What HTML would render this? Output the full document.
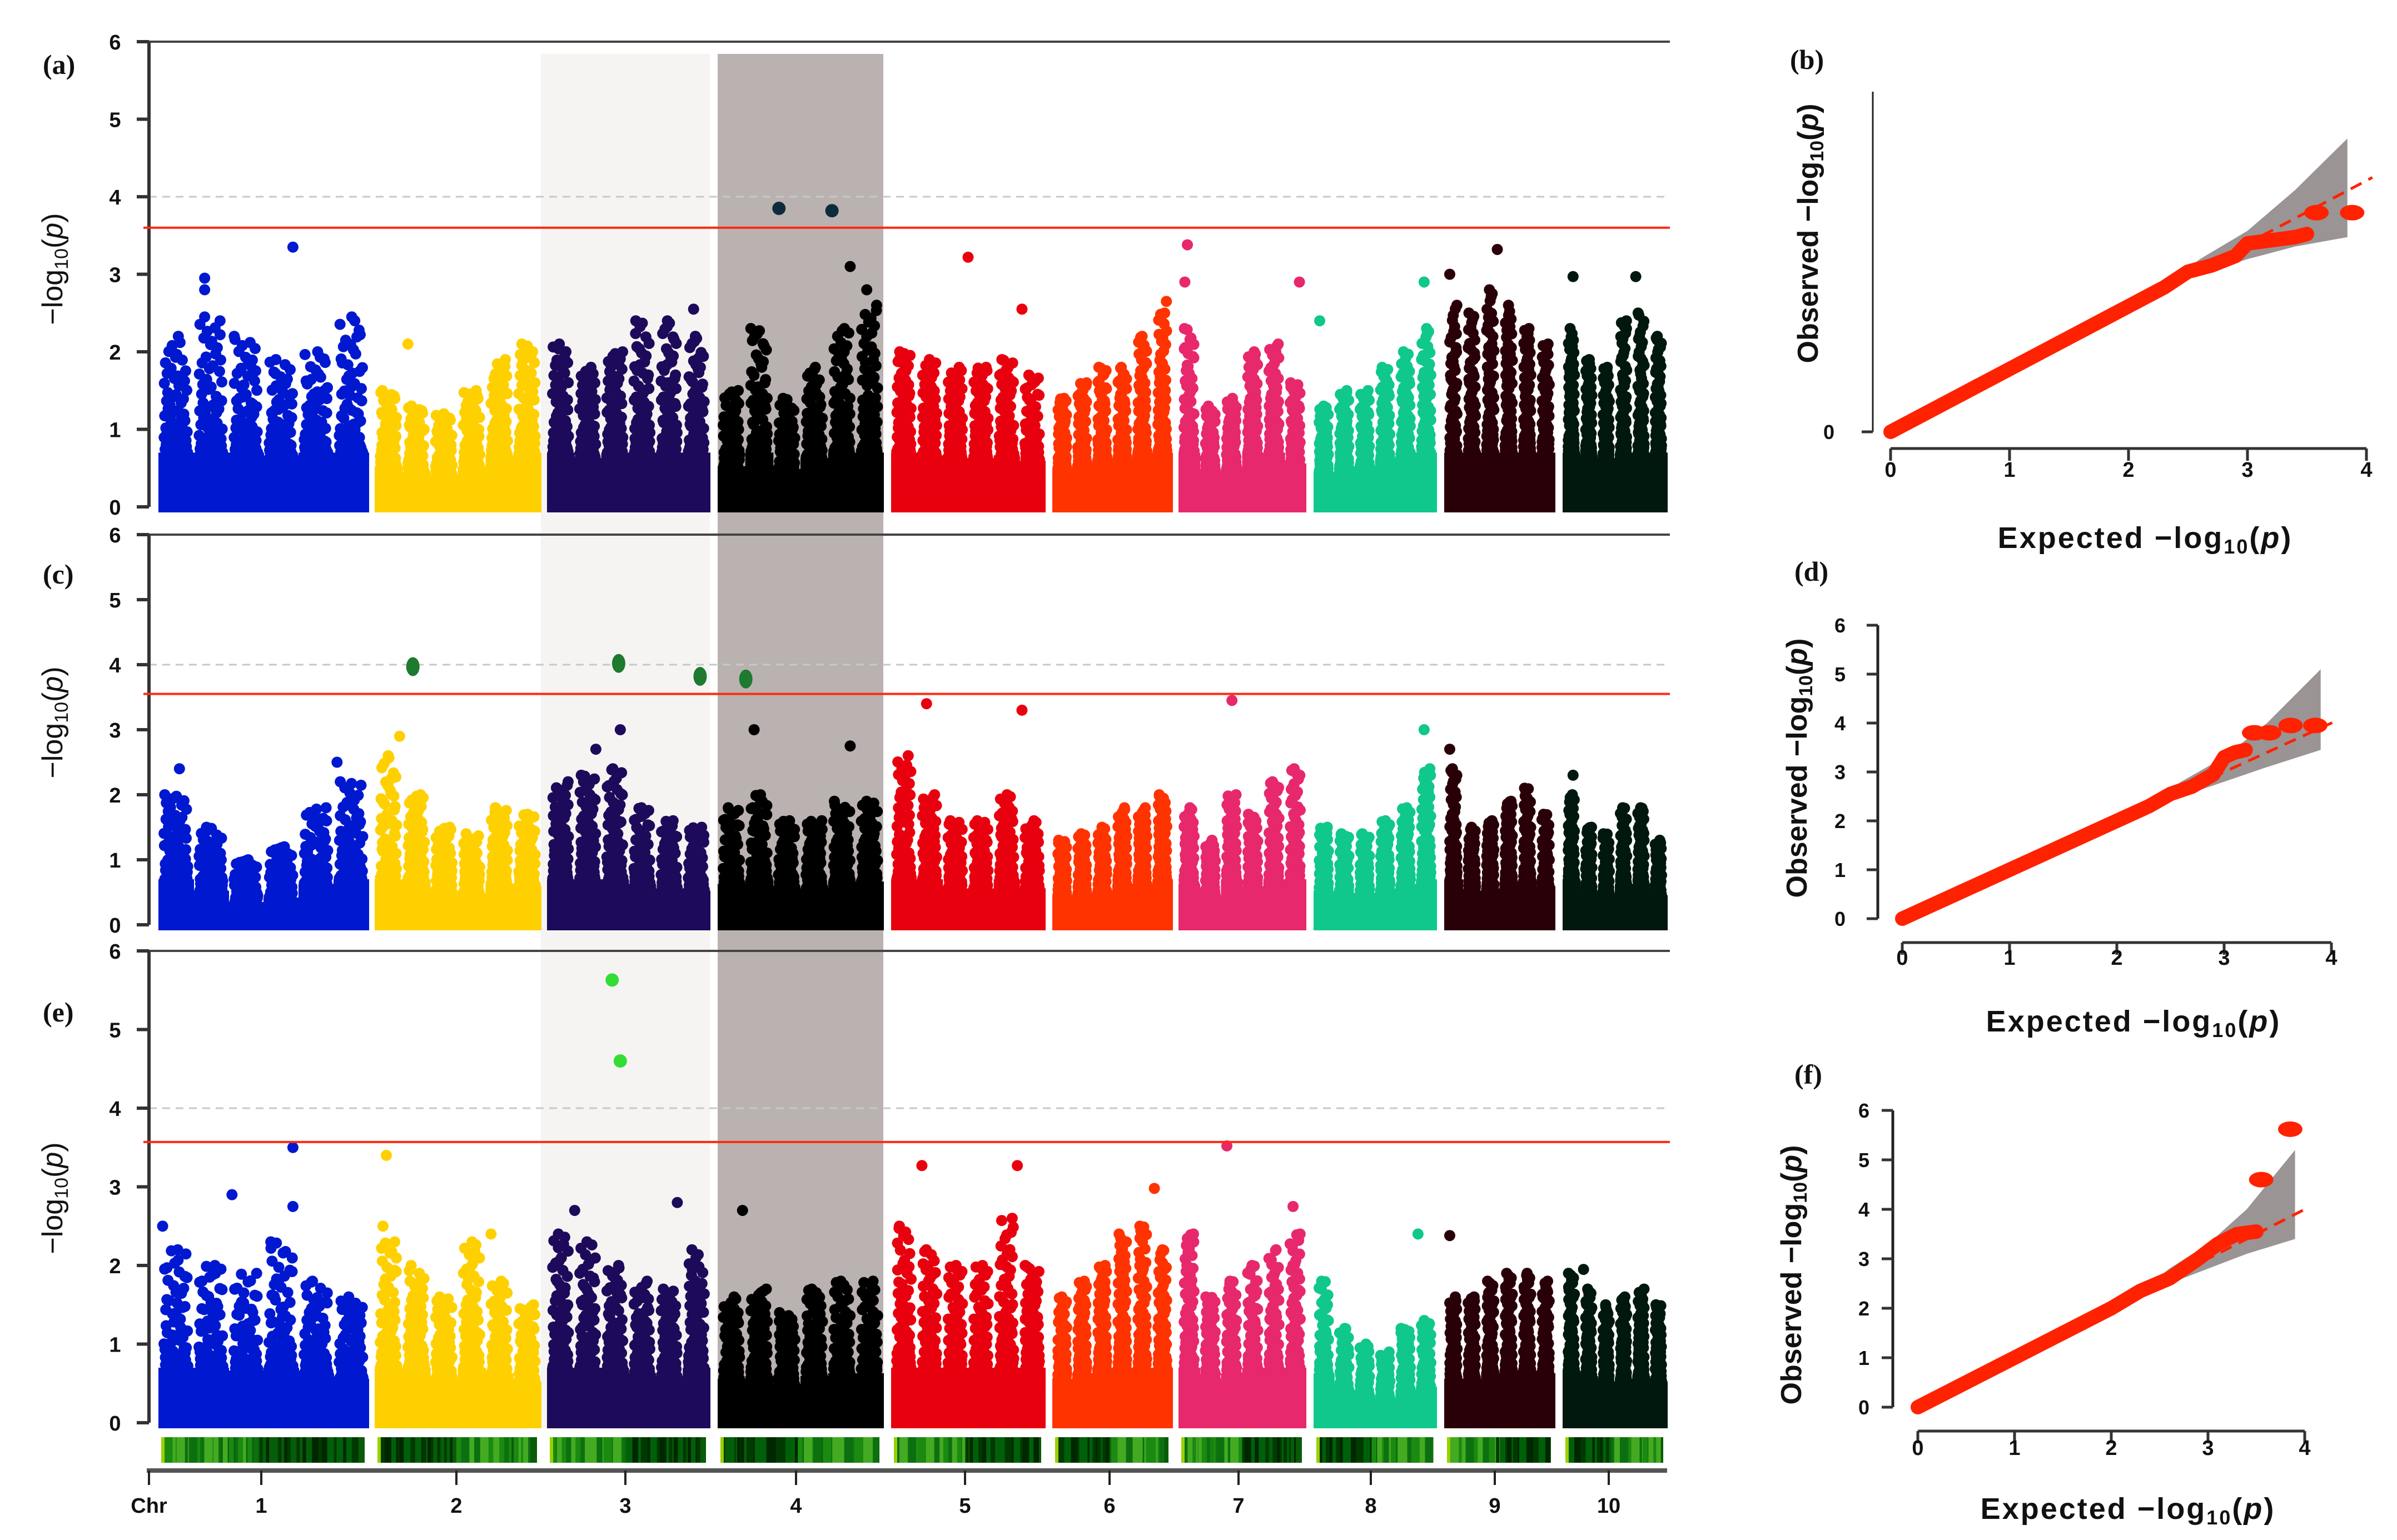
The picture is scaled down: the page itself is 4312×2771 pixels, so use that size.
<!DOCTYPE html>
<html><head><meta charset="utf-8"><style>
html,body{margin:0;padding:0;background:#fff;}
svg{display:block;font-family:"Liberation Sans",sans-serif;}
</style></head><body>
<svg id="fig" width="4312" height="2771" viewBox="0 0 4312 2771" xmlns="http://www.w3.org/2000/svg"></svg>
<script>
// ---------- DATA ----------
const chromosomes = ['1','2','3','4','5','6','7','8','9','10'];
const chrColors = ['#0018d0','#ffd000','#1e0a5a','#000000','#e8000e','#ff3300','#e8286c','#10c88c','#2a0008','#00180e'];
// upper envelope of dense cloud per chromosome (6 bins)
const envA = [[2.2,2.4,2.2,1.9,2.0,2.4],[1.5,1.3,1.2,1.5,1.9,2.1],[2.1,1.8,2.0,2.4,2.4,2.2],[1.5,2.3,1.4,1.8,2.3,2.6],[2.0,1.9,1.8,1.8,1.9,1.7],[1.4,1.6,1.8,1.8,2.2,2.5],[2.3,1.3,1.4,2.0,2.1,1.6],[1.3,1.5,1.5,1.8,2.0,2.3],[2.6,2.5,2.8,2.6,2.3,2.1],[2.3,1.9,1.8,2.4,2.5,2.2]];
const envC = [[2.0,1.5,1.0,1.2,1.8,2.2],[2.6,2.0,1.5,1.4,1.8,1.7],[2.2,2.3,2.4,1.8,1.6,1.5],[1.8,2.0,1.6,1.6,1.9,1.9],[2.6,2.0,1.6,1.6,2.0,1.6],[1.3,1.4,1.5,1.8,1.8,2.0],[1.8,1.3,2.0,1.7,2.2,2.4],[1.5,1.4,1.4,1.6,1.8,2.4],[2.4,1.5,1.6,1.9,2.1,1.7],[2.0,1.5,1.4,1.8,1.8,1.3]];
const envE = [[2.2,2.0,1.9,2.3,1.8,1.6],[2.3,2.0,1.6,2.3,1.8,1.5],[2.4,2.3,2.0,1.8,1.7,2.2],[1.6,1.7,1.4,1.7,1.8,1.8],[2.5,2.2,2.0,2.0,2.6,2.0],[1.6,1.8,2.0,2.4,2.5,2.2],[2.4,1.6,1.8,2.0,2.2,2.4],[1.8,1.2,1.0,0.9,1.2,1.3],[1.6,1.6,1.8,1.9,1.9,1.8],[1.9,1.7,1.5,1.6,1.7,1.5]];
// notable peaks: [chrIndex, fractional position, -log10 p]
const peaksA = [[0,0.64,3.35],[0,0.22,2.95],[0,0.22,2.8],[0,0.22,2.45],[0,0.92,2.45],[1,0.2,2.1],[2,0.9,2.55],[3,0.8,3.1],[3,0.9,2.8],[4,0.5,3.22],[4,0.85,2.55],[5,0.95,2.65],[6,0.07,3.38],[6,0.05,2.9],[6,0.95,2.9],[7,0.9,2.9],[7,0.05,2.4],[8,0.48,3.32],[8,0.05,3.0],[9,0.1,2.97],[9,0.7,2.97]];
const sigA = [[3,0.37,3.85],[3,0.69,3.82]];
const peaksC = [[0,0.85,2.5],[0,0.1,2.4],[1,0.15,2.9],[2,0.45,3.0],[2,0.3,2.7],[3,0.22,3.0],[3,0.8,2.75],[4,0.23,3.4],[4,0.85,3.3],[6,0.42,3.45],[7,0.9,3.0],[8,0.05,2.7],[9,0.1,2.3]];
const sigC = [[1,0.23,3.97],[2,0.44,4.02],[2,0.94,3.82],[3,0.17,3.78]];
const peaksE = [[0,0.64,3.5],[0,0.35,2.9],[0,0.64,2.75],[0,0.02,2.5],[1,0.07,3.4],[1,0.05,2.5],[1,0.7,2.4],[2,0.8,2.8],[2,0.17,2.7],[3,0.15,2.7],[4,0.2,3.27],[4,0.82,3.27],[5,0.85,2.98],[6,0.38,3.52],[6,0.9,2.75],[7,0.85,2.4],[8,0.05,2.38],[9,0.2,1.95]];
const sigE = [[2,0.4,5.63],[2,0.45,4.6]];
const thresholds = [3.6,3.55,3.57];
const yTicks = [0,1,2,3,4,5,6];
const qqTicks = [0,1,2,3,4];
// QQ data
const qqExpB = [0,0.5,1,1.5,2,2.3,2.5,2.7,2.9,3.0,3.2,3.4,3.5];
const qqObsB = [0,0.5,1,1.5,2,2.3,2.55,2.65,2.8,3.0,3.05,3.1,3.15];
const qqTopExpB = [3.58,3.88];
const qqTopObsB = [3.49,3.49];
const bandXB = [2.2,2.6,3.0,3.4,3.84];
const bandLoB = [2.2,2.5,2.75,2.95,3.1];
const bandHiB = [2.2,2.75,3.2,3.85,4.67];
const qqExpD = [0,0.5,1,1.5,2,2.3,2.5,2.7,2.9,3.0,3.1,3.2];
const qqObsD = [0,0.5,1,1.5,2,2.3,2.55,2.7,2.95,3.3,3.4,3.45];
const qqTopExpD = [3.28,3.42,3.62,3.85];
const qqTopObsD = [3.8,3.8,3.95,3.95];
const bandXD = [2.2,2.6,3.0,3.4,3.9];
const bandLoD = [2.2,2.5,2.8,3.1,3.45];
const bandHiD = [2.2,2.8,3.3,4.0,5.1];
const qqExpF = [0,0.5,1,1.5,2,2.3,2.6,2.9,3.1,3.3,3.5];
const qqObsF = [0,0.5,1,1.5,2,2.35,2.6,3.0,3.3,3.5,3.55];
const qqTopExpF = [3.55,3.85];
const qqTopObsF = [4.6,5.62];
const bandXF = [2.2,2.6,3.0,3.4,3.9];
const bandLoF = [2.2,2.5,2.8,3.1,3.4];
const bandHiF = [2.2,2.8,3.3,4.0,5.2];

// ---------- LAYOUT ----------
const NS='http://www.w3.org/2000/svg';
const svg=document.getElementById('fig');
function add(tag,attrs,parent){const el=document.createElementNS(NS,tag);for(const k in attrs)el.setAttribute(k,attrs[k]);(parent||svg).appendChild(el);return el;}
const chrPixStart=[285,674,984,1291,1603,1893,2120,2363,2598,2811];
const chrPixEnd=[663,973,1277,1589,1880,2109,2349,2584,2797,2999];
const chrLabelX=[470,821,1125,1432,1736,1996,2228,2466,2689,2894];
const AX=268, RIGHT=2999;
const panels=[
 {zero:912,top:75,label:'(a)',ly:133,ty:484,env:envA,peaks:peaksA,sig:sigA,sigColor:'#0c2c3c',sigShape:'c'},
 {zero:1664,top:962,label:'(c)',ly:1050,ty:1300,env:envC,peaks:peaksC,sig:sigC,sigColor:'#1e7a2e',sigShape:'e'},
 {zero:2560,top:1711,label:'(e)',ly:1838,ty:2156,env:envE,peaks:peaksE,sig:sigE,sigColor:'#33dd33',sigShape:'c'}
];
panels.forEach(p=>p.unit=(p.zero-p.top)/6);
function xPos(c,f){return chrPixStart[c]+f*(chrPixEnd[c]-chrPixStart[c]);}
function halton(i,b){let f=1,r=0;while(i>0){f/=b;r+=f*(i%b);i=Math.floor(i/b);}return r;}

let el=add('rect',{x:973,y:97,width:304,height:2473,fill:'#f6f4f3'});


el=add('rect',{x:1291,y:97,width:298,height:2473,fill:'#bab2b0'});



panels.forEach((p,pi)=>{
 const g=add('g',{});
 
 
 const Y=v=>p.zero-v*p.unit;
 el=add('line',{x1:AX,y1:p.top,x2:RIGHT+5,y2:p.top,stroke:'#444','stroke-width':4},g);
 
 
 el=add('line',{x1:AX,y1:Y(4),x2:RIGHT,y2:Y(4),stroke:'#c8c8c8','stroke-width':3,'stroke-dasharray':'14 10'},g);
 
 
 el=add('line',{x1:AX,y1:p.top,x2:AX,y2:p.zero,stroke:'#333','stroke-width':6},g);
 
 
 yTicks.forEach(t=>{
  el=add('line',{x1:AX-22,y1:Y(t),x2:AX,y2:Y(t),stroke:'#333','stroke-width':6},g);
  
  
  el=add('text',{x:207,y:Y(t)+14,'font-size':38,'font-weight':'bold','text-anchor':'middle',fill:'#111'},g);
  el.textContent=t;
  
  
 });
 el=add('text',{x:0,y:0,'font-size':52,'text-anchor':'middle',fill:'#111',transform:`translate(112,${p.ty}) rotate(-90)`},g);
 el.innerHTML='−log<tspan font-size="34" dy="10">10</tspan><tspan dy="-10">(</tspan><tspan font-style="italic">p</tspan>)';
 
 
 el=add('text',{x:77,y:p.ly,'font-size':50,'font-weight':'bold','font-family':'Liberation Serif, serif',fill:'#111'},g);
 el.textContent=p.label;
 
 
 chromosomes.forEach((cn,c)=>{
  const cg=add('g',{fill:chrColors[c]},g);
  
  
  const env=p.env[c];const nb=env.length;
  const w=(chrPixEnd[c]-chrPixStart[c])/nb;
  env.forEach((e,b)=>{
   const solid=Math.min(0.35*e,0.7);
   const bx=chrPixStart[c]+b*w;
   el=add('rect',{x:bx,y:Y(solid),width:w+1,height:p.zero+10-Y(solid)},cg);
   
   
   const off=c*37+b*11+pi*97;
   for(let k=1;k<=70;k++){
    const fx=halton(k+off,2);
    const fy=Math.pow(halton(k+off,3),2.2);
    const v=solid+(e-solid)*fy;
    el=add('circle',{cx:bx+10+fx*(w-20),cy:Y(v),r:10},cg);
    
    
   }
   el=add('circle',{cx:bx+10+halton(off+3,5)*(w-20),cy:Y(e),r:10},cg);
   
   
  });
 });
 p.peaks.forEach(pk=>{
  el=add('circle',{cx:xPos(pk[0],pk[1]),cy:Y(pk[2]),r:10,fill:chrColors[pk[0]]},g);
  
  
 });
 p.sig.forEach(pk=>{
  if(p.sigShape==='e') el=add('ellipse',{cx:xPos(pk[0],pk[1]),cy:Y(pk[2]),rx:12,ry:17,fill:p.sigColor},g);
  else el=add('circle',{cx:xPos(pk[0],pk[1]),cy:Y(pk[2]),r:12,fill:p.sigColor},g);
  
  
 });
 el=add('line',{x1:AX-10,y1:Y(thresholds[pi]),x2:RIGHT+5,y2:Y(thresholds[pi]),stroke:'#ff2a10','stroke-width':4},g);
 
 
});

chromosomes.forEach((cn,c)=>{
 el=add('rect',{x:chrPixStart[c]+5,y:2586,width:chrPixEnd[c]-chrPixStart[c]-12,height:46,fill:'#0a5a0a'});
 
 
 const w=chrPixEnd[c]-chrPixStart[c]-12;
 for(let k=0;k<40;k++){
  const f=halton(k+1+c*13,2);
  const shade=['#003a00','#1a8a10','#00600a','#44aa22','#002800','#0d7010'][k%6];
  el=add('rect',{x:chrPixStart[c]+5+f*(w-12),y:2586,width:6+(k%4)*3,height:46,fill:shade});
  
  
 }
 el=add('rect',{x:chrPixStart[c]+5,y:2586,width:6,height:46,fill:'#9ad000'});
 
 
});
el=add('line',{x1:AX-4,y1:2646,x2:RIGHT,y2:2646,stroke:'#555','stroke-width':8});


[AX].concat(chrLabelX).forEach(x=>{
 el=add('line',{x1:x,y1:2646,x2:x,y2:2672,stroke:'#222','stroke-width':4});
 
 
});
el=add('text',{x:AX,y:2722,'font-size':38,'font-weight':'bold','text-anchor':'middle',fill:'#111'});
el.textContent='Chr';


chromosomes.forEach((cn,c)=>{
 el=add('text',{x:chrLabelX[c],y:2722,'font-size':38,'font-weight':'bold','text-anchor':'middle',fill:'#111'});
 el.textContent=cn;
 
 
});

const qqs=[
 {id:'b',x0:3401,xu:214,y0:777,yu:113,axisY:789,yAxisX:3369,yTop:165,yLabelX:3290,ticksY:[0],tickLblY:844,expY:968,titleX:3252,titleY:420,lblX:3220,lblY:124,
  exp:qqExpB,obs:qqObsB,te:qqTopExpB,to:qqTopObsB,bx:bandXB,bl:bandLoB,bh:bandHiB},
 {id:'d',x0:3422,xu:193,y0:1653,yu:88,axisY:1678,yAxisX:3378,yTop:1125,yLabelX:3310,ticksY:[0,1,2,3,4,5,6],tickLblY:1722,expY:1838,titleX:3232,titleY:1382,lblX:3228,lblY:1045,
  exp:qqExpD,obs:qqObsD,te:qqTopExpD,to:qqTopObsD,bx:bandXD,bl:bandLoD,bh:bandHiD},
 {id:'f',x0:3450,xu:174,y0:2532,yu:89,axisY:2557,yAxisX:3405,yTop:1998,yLabelX:3353,ticksY:[0,1,2,3,4,5,6],tickLblY:2604,expY:2715,titleX:3222,titleY:2294,lblX:3228,lblY:1950,
  exp:qqExpF,obs:qqObsF,te:qqTopExpF,to:qqTopObsF,bx:bandXF,bl:bandLoF,bh:bandHiF}
];
qqs.forEach(q=>{
 const g=add('g',{});
 
 
 const X=v=>q.x0+v*q.xu, Y=v=>q.y0-v*q.yu;
 el=add('text',{x:q.lblX,y:q.lblY,'font-size':50,'font-weight':'bold','font-family':'Liberation Serif, serif',fill:'#111'},g);
 el.textContent='('+q.id+')';
 
 
 let pts=q.bx.map((x,i)=>X(x)+','+Y(q.bh[i]));
 pts=pts.concat(q.bx.slice().reverse().map((x,i)=>X(x)+','+Y(q.bl[q.bl.length-1-i])));
 el=add('polygon',{points:pts.join(' '),fill:'#9a9494'},g);
 
 
 el=add('line',{x1:X(0),y1:q.axisY+18,x2:X(4),y2:q.axisY+18,stroke:'#333','stroke-width':5},g);
 
 
 qqTicks.forEach(t=>{
  el=add('line',{x1:X(t),y1:q.axisY+18,x2:X(t),y2:q.axisY+40,stroke:'#333','stroke-width':5},g);
  
  
  el=add('text',{x:X(t),y:q.tickLblY+14,'font-size':38,'font-weight':'bold','text-anchor':'middle',fill:'#111'},g);
  el.textContent=t;
  
  
 });
 el=add('line',{x1:q.yAxisX,y1:q.yTop,x2:q.yAxisX,y2:Y(0),stroke:'#222','stroke-width':q.id==='b'?3:5},g);
 
 
 q.ticksY.forEach(t=>{
  el=add('line',{x1:q.yAxisX-20,y1:Y(t),x2:q.yAxisX,y2:Y(t),stroke:'#333','stroke-width':5},g);
  
  
  el=add('text',{x:q.yLabelX,y:Y(t)+13,'font-size':36,'font-weight':'bold','text-anchor':'middle',fill:'#111'},g);
  el.textContent=t;
  
  
 });
 el=add('text',{x:(X(0)+X(4))/2+30,y:q.expY+18,'font-size':54,'font-weight':'bold','text-anchor':'middle','letter-spacing':3,fill:'#111'},g);
 el.innerHTML='Expected  −log<tspan font-size="36" dy="10">10</tspan><tspan dy="-10">(</tspan><tspan font-style="italic">p</tspan>)';
 
 
 el=add('text',{x:0,y:0,'font-size':52,'font-weight':'bold','text-anchor':'middle',fill:'#111',transform:`translate(${q.titleX+18},${q.titleY}) rotate(-90)`},g);
 el.innerHTML='Observed −log<tspan font-size="34" dy="10">10</tspan><tspan dy="-10">(</tspan><tspan font-style="italic">p</tspan>)';
 
 
 el=add('line',{x1:X(0),y1:Y(0),x2:X(4.05),y2:Y(4.05),stroke:'#ff2200','stroke-width':5,'stroke-dasharray':'22 14'},g);
 
 
 el=add('polyline',{points:q.exp.map((e,i)=>X(e)+','+Y(q.obs[i])).join(' '),fill:'none',stroke:'#ff2200','stroke-width':26,'stroke-linecap':'round','stroke-linejoin':'round'},g);
 
 
 q.te.forEach((e,i)=>{
  el=add('ellipse',{cx:X(e),cy:Y(q.to[i]),rx:22,ry:14,fill:'#ff2200'},g);
  
  
 });
});
</script>
</body></html>
